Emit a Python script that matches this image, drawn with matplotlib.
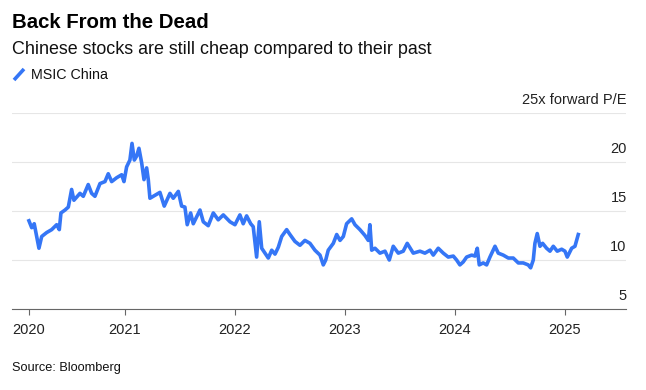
import matplotlib
matplotlib.use("Agg")
import matplotlib.pyplot as plt
from matplotlib.lines import Line2D

plt.rcParams['font.family'] = ['Liberation Sans', 'DejaVu Sans']

# MSCI China forward P/E (decimal years)
years = [
    2020.127, 2020.152, 2020.175, 2020.218, 2020.243, 2020.288, 2020.334, 2020.379, 2020.403, 2020.418,
    2020.455, 2020.485, 2020.515, 2020.536, 2020.591, 2020.621, 2020.666, 2020.697, 2020.727, 2020.773,
    2020.818, 2020.848, 2020.879, 2020.925, 2020.970, 2020.991, 2021.015, 2021.045, 2021.064, 2021.085,
    2021.106, 2021.127, 2021.152, 2021.173, 2021.197, 2021.212, 2021.227, 2021.273, 2021.318, 2021.357,
    2021.409, 2021.439, 2021.485, 2021.515, 2021.545, 2021.566, 2021.597, 2021.621, 2021.652, 2021.682,
    2021.712, 2021.757, 2021.803, 2021.848, 2021.894, 2021.955, 2022.000, 2022.045, 2022.075, 2022.106,
    2022.143, 2022.166, 2022.197, 2022.221, 2022.243, 2022.273, 2022.303, 2022.334, 2022.364, 2022.394,
    2022.425, 2022.470, 2022.500, 2022.545, 2022.591, 2022.636, 2022.682, 2022.727, 2022.773, 2022.803,
    2022.825, 2022.848, 2022.894, 2022.925, 2022.955, 2022.985, 2023.015, 2023.061, 2023.091, 2023.136,
    2023.182, 2023.212, 2023.227, 2023.243, 2023.273, 2023.318, 2023.364, 2023.403, 2023.439, 2023.485,
    2023.530, 2023.566, 2023.621, 2023.682, 2023.727, 2023.773, 2023.803, 2023.848, 2023.894, 2023.939,
    2023.985, 2024.015, 2024.045, 2024.075, 2024.106, 2024.152, 2024.182, 2024.203, 2024.221, 2024.257,
    2024.288, 2024.318, 2024.364, 2024.394, 2024.439, 2024.485, 2024.530, 2024.576, 2024.621, 2024.666,
    2024.688, 2024.712, 2024.727, 2024.748, 2024.773, 2024.797, 2024.833, 2024.864, 2024.894, 2024.930,
    2024.970, 2025.000, 2025.021, 2025.061, 2025.091, 2025.121,
]
pe = [
    14.0, 13.3, 13.7, 11.2, 12.4, 12.8, 13.1, 13.6, 13.1, 14.8,
    15.1, 15.4, 17.2, 16.1, 16.8, 16.5, 17.7, 16.8, 16.5, 17.8,
    18.0, 18.8, 18.0, 18.4, 18.7, 18.0, 19.5, 20.2, 21.9, 20.2,
    20.6, 21.4, 19.9, 18.2, 19.4, 18.2, 16.3, 16.6, 16.9, 15.5,
    16.8, 16.3, 17.0, 15.5, 15.4, 13.6, 14.8, 13.7, 14.4, 15.1,
    13.9, 13.5, 14.8, 14.1, 14.6, 13.9, 13.6, 14.6, 13.7, 14.5,
    13.7, 13.4, 10.3, 13.9, 11.2, 10.7, 10.2, 11.0, 10.6, 11.3,
    12.4, 13.1, 12.6, 11.9, 11.5, 12.0, 11.7, 11.0, 10.5, 9.5,
    10.0, 11.0, 11.7, 12.6, 12.0, 12.4, 13.7, 14.2, 13.6, 13.1,
    12.5, 12.0, 13.6, 11.0, 11.2, 10.7, 10.9, 10.0, 11.4, 10.7,
    10.9, 11.7, 10.7, 10.9, 10.7, 11.0, 10.5, 11.2, 10.7, 10.3,
    10.4, 10.0, 9.5, 9.8, 10.3, 10.5, 10.4, 11.2, 9.5, 9.7,
    9.5, 10.3, 11.4, 10.7, 10.5, 10.2, 10.2, 9.7, 9.7, 9.5,
    9.2, 10.0, 11.7, 12.7, 11.4, 11.7, 11.2, 10.9, 11.4, 10.9,
    11.1, 10.9, 10.3, 11.2, 11.4, 12.6,
]

xtick_pos = [years[0], 2021, 2022, 2023, 2024, 2025]
xtick_labels = ['2020', '2021', '2022', '2023', '2024', '2025']
ytick_pos = [5, 10, 15, 20, 25]
ytick_labels = ['5', '10', '15', '20', '25x forward P/E']

blue = '#3576f6'

fig = plt.figure(figsize=(6.46, 3.90), dpi=100)
ax = fig.add_axes([12 / 646, 1 - 309 / 390, 614 / 646, 196 / 390])

ax.plot(years, pe, color=blue, lw=2.6, solid_joinstyle='round', zorder=3)

ax.set_xlim(2019.973, 2025.555)
ax.set_ylim(5, 25)

ax.set_yticks(ytick_pos)
ax.yaxis.grid(True, color='#e6e6e6', lw=0.8)
ax.tick_params(axis='y', length=0, labelleft=False, labelright=False)
for v, lab in zip(ytick_pos, ytick_labels):
    ax.annotate(lab, xy=(1, v), xycoords=('axes fraction', 'data'),
                xytext=(0.5, 4), textcoords='offset points',
                ha='right', va='bottom', fontsize=10.5, color='#222222')

ax.set_xticks(xtick_pos)
ax.set_xticklabels(xtick_labels)
ax.tick_params(axis='x', length=4, width=0.8, color='#666666', pad=6,
               labelsize=10.5, labelcolor='#222222')

for s in ['top', 'left', 'right']:
    ax.spines[s].set_visible(False)
ax.spines['bottom'].set_color('#666666')
ax.spines['bottom'].set_linewidth(0.8)
ax.set_axisbelow(True)

fig.text(12 / 646, 1 - 28 / 390, 'Back From the Dead', fontsize=14.7,
         fontweight='bold', color='#000000', va='baseline')
fig.text(12 / 646, 1 - 54 / 390, 'Chinese stocks are still cheap compared to their past',
         fontsize=12.9, color='#111111', va='baseline')
fig.add_artist(Line2D([14 / 646, 24 / 646], [1 - 80 / 390, 1 - 69 / 390],
                      color=blue, lw=2.6, solid_capstyle='butt'))
fig.text(31 / 646, 1 - 79 / 390, 'MSIC China', fontsize=10.3, color='#111111', va='baseline')
fig.text(12 / 646, 1 - 371 / 390, 'Source: Bloomberg', fontsize=9.2, color='#111111', va='baseline')

fig.savefig('out.png', dpi=100)
